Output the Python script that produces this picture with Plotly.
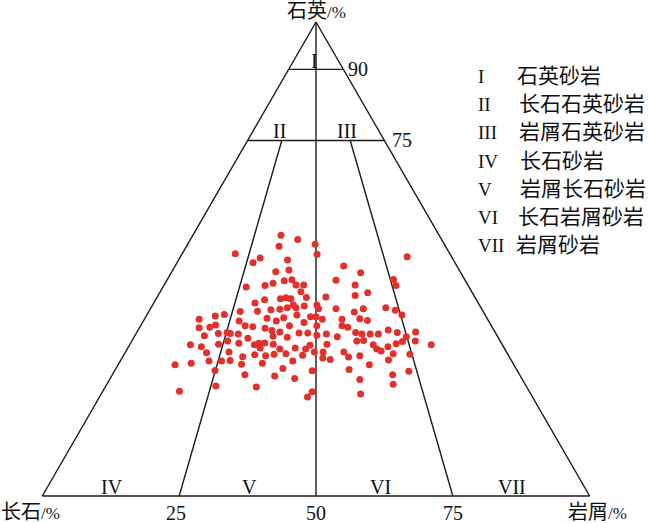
import plotly.graph_objects as go

# ---- data (percent): quartz Q, feldspar F, lithic L ----
quartz = [51.1, 49.2, 44.1, 40.7, 38.9, 55.0, 54.1, 52.7, 53.1, 51.0, 50.2, 49.8, 48.5, 47.3, 47.7, 45.5,
          45.6, 45.4, 44.9, 44.4, 44.5, 44.5, 43.1, 41.9, 42.0, 41.4, 41.6, 41.8, 41.6, 40.3, 39.7, 39.7,
          40.1, 40.3, 39.5, 39.5, 39.0, 39.3, 39.4, 50.5, 47.1, 45.7, 44.4, 44.5, 42.9, 42.3, 39.5, 39.7,
          39.2, 38.8, 37.3, 38.0, 38.3, 35.5, 35.6, 36.1, 36.9, 35.9, 35.7, 33.8, 34.3, 34.5, 34.3, 34.2,
          33.3, 31.9, 31.5, 32.0, 32.7, 32.2, 31.9, 30.2, 30.4, 29.4, 29.8, 27.7, 28.0, 28.5, 28.5, 28.6,
          27.8, 26.5, 25.6, 23.2, 23.0, 22.1, 38.2, 37.8, 37.8, 37.3, 37.5, 37.6, 36.9, 36.6, 35.9, 37.3,
          35.9, 35.9, 35.4, 34.9, 34.6, 34.4, 34.4, 33.9, 34.2, 33.6, 33.7, 33.5, 32.2, 32.3, 31.2, 32.0,
          31.8, 32.0, 31.0, 31.2, 31.0, 30.4, 30.4, 29.6, 29.9, 30.0, 29.7, 29.1, 28.8, 30.4, 28.5, 28.0,
          26.4, 26.9, 25.3, 24.8, 22.0, 20.9, 38.2, 35.6, 37.4, 37.0, 34.5, 34.2, 34.2, 34.2, 35.0, 34.5,
          34.6, 33.6, 32.6, 32.7, 32.1, 32.7, 32.8, 31.9, 31.0, 30.6, 31.5, 31.9, 30.0, 29.9, 29.3, 29.6,
          28.7, 27.7, 26.7, 26.3, 25.6, 24.6, 23.6, 21.5]
lithic = [9.7, 13.9, 15.2, 18.5, 16.7, 16.1, 19.6, 16.9, 23.3, 24.7, 14.7, 19.9, 30.8, 19.0, 21.2, 30.9,
          22.8, 21.5, 19.7, 18.5, 24.1, 25.5, 25.7, 27.3, 30.8, 19.9, 22.7, 23.6, 24.6, 25.7, 24.9, 26.5,
          27.8, 30.0, 30.7, 33.9, 19.8, 22.1, 23.7, 41.4, 34.6, 41.3, 42.4, 34.9, 38.0, 36.0, 38.9, 42.9,
          44.9, 37.6, 10.0, 12.6, 14.1, 10.9, 12.8, 13.6, 17.5, 19.1, 20.6, 12.7, 15.0, 16.5, 17.2, 18.7,
          20.9, 11.1, 13.3, 16.2, 17.5, 19.8, 22.8, 14.9, 18.9, 21.9, 23.9, 10.4, 13.2, 16.2, 18.5, 20.0,
          22.5, 18.3, 24.2, 20.1, 27.6, 14.0, 27.4, 30.1, 31.1, 32.5, 22.3, 25.3, 24.3, 29.5, 32.2, 36.1,
          36.8, 27.2, 23.0, 24.5, 26.1, 29.7, 31.3, 33.2, 34.8, 37.1, 25.3, 28.0, 23.5, 24.5, 24.2, 26.2,
          33.0, 36.0, 32.6, 30.6, 27.9, 34.5, 36.1, 26.0, 27.4, 29.5, 32.7, 36.7, 38.2, 39.9, 31.5, 26.2,
          36.1, 30.5, 29.8, 33.7, 38.3, 38.0, 46.6, 38.0, 39.3, 40.9, 40.0, 41.3, 42.8, 44.3, 45.7, 47.6,
          50.9, 49.7, 49.5, 51.8, 48.6, 41.1, 42.3, 44.5, 45.6, 46.6, 47.4, 55.1, 49.1, 52.2, 41.3, 43.2,
          48.9, 45.9, 42.7, 53.8, 51.2, 45.7, 52.3, 47.4]
feldspar = [39.2, 36.9, 40.7, 40.8, 44.4, 28.9, 26.3, 30.4, 23.6, 24.3, 35.1, 30.3, 20.7, 33.7, 31.1, 23.6,
            31.6, 33.1, 35.4, 37.1, 31.4, 30.0, 31.2, 30.8, 27.2, 38.7, 35.7, 34.6, 33.8, 34.0, 35.4, 33.8,
            32.1, 29.7, 29.8, 26.6, 41.2, 38.6, 36.9, 8.1, 18.3, 13.0, 13.2, 20.6, 19.1, 21.7, 21.6, 17.4,
            15.9, 23.6, 52.7, 49.4, 47.6, 53.6, 51.6, 50.3, 45.6, 45.0, 43.7, 53.5, 50.7, 49.0, 48.5, 47.1,
            45.8, 57.0, 55.2, 51.8, 49.8, 48.0, 45.3, 54.9, 50.7, 48.7, 46.3, 61.9, 58.8, 55.3, 53.0, 51.4,
            49.7, 55.2, 50.2, 56.7, 49.4, 63.9, 34.4, 32.1, 31.1, 30.2, 40.2, 37.1, 38.8, 33.9, 31.9, 26.6,
            27.3, 36.9, 41.6, 40.6, 39.3, 35.9, 34.3, 32.9, 31.0, 29.3, 41.0, 38.5, 44.3, 43.2, 44.6, 41.8,
            35.2, 32.0, 36.4, 38.2, 41.1, 35.1, 33.5, 44.4, 42.7, 40.5, 37.6, 34.2, 33.0, 29.7, 40.0, 45.8,
            37.5, 42.6, 44.9, 41.5, 39.7, 41.1, 15.2, 26.4, 23.3, 22.1, 25.5, 24.5, 23.0, 21.5, 19.3, 17.9,
            14.5, 16.7, 17.9, 15.5, 19.3, 26.2, 24.9, 23.6, 23.4, 22.8, 21.1, 13.0, 20.9, 17.9, 29.4, 27.2,
            22.4, 26.4, 30.6, 19.9, 23.2, 29.7, 24.1, 31.1]

# classification boundaries (Q limits and L/(F+L) ratios)
q_limits = [90, 75]
ratio_ticks = [25, 50, 75]
region_names = ["I", "II", "III", "IV", "V", "VI", "VII"]
rock_names = ["石英砂岩", "长石石英砂岩", "岩屑石英砂岩", "长石砂岩", "岩屑长石砂岩", "长石岩屑砂岩", "岩屑砂岩"]
pole_q, pole_f, pole_l = "石英", "长石", "岩屑"

FONT = "Liberation Serif, Times New Roman, Noto Sans CJK SC, serif"
LINE = dict(color="#1a1a1a", width=1.4)

fig = go.Figure()

# Q-limit lines (horizontal)
for q in q_limits:
    rest = 100 - q
    fig.add_trace(go.Scatterternary(a=[q, q], b=[rest, 0], c=[0, rest], mode="lines",
                                    line=LINE, hoverinfo="skip", showlegend=False))
# ratio lines from base toward quartz pole
for r in ratio_ticks:
    top_q = 100 if r == 50 else q_limits[1]
    rest = 100 - top_q
    fig.add_trace(go.Scatterternary(a=[top_q, 0], b=[rest * (100 - r) / 100, 100 - r],
                                    c=[rest * r / 100, r], mode="lines",
                                    line=LINE, hoverinfo="skip", showlegend=False))

# sample points
fig.add_trace(go.Scatterternary(a=quartz, b=feldspar, c=lithic, mode="markers",
                                marker=dict(color="#e2302c", size=7, line=dict(width=0)),
                                showlegend=False))

axis_common = dict(showgrid=False, showticklabels=False, ticks="", showline=True,
                   linecolor="#1a1a1a", linewidth=1.4, title=dict(text=""))
fig.update_layout(
    width=650, height=523, autosize=False,
    margin=dict(l=42, r=60, t=22, b=27, pad=0),
    paper_bgcolor="white", plot_bgcolor="white",
    font=dict(family=FONT, color="#111"),
    ternary=dict(sum=100, bgcolor="white",
                 aaxis=axis_common, baxis=axis_common, caxis=axis_common,
                 domain=dict(x=[0, 1], y=[0, 1])),
)

# pixel -> paper helper for text placement
def P(px, py):
    return (px - 42) / 548, (496 - py) / 474

ann = []
def add_text(px, py, text, size, xanchor="center"):
    x, y = P(px, py)
    ann.append(dict(x=x, y=y, xref="paper", yref="paper", text=text, showarrow=False,
                    xanchor=xanchor, yanchor="middle", font=dict(size=size, family=FONT, color="#111")))

small = "<span style='font-size:17px'>/%</span>"
add_text(316, 11, pole_q + small, 20)
add_text(-1, 512, pole_f + small, 20, "left")
add_text(566, 512, pole_l + small, 20, "left")
add_text(176, 513, str(ratio_ticks[0]), 20)
add_text(316, 513, str(ratio_ticks[1]), 20)
add_text(453, 513, str(ratio_ticks[2]), 20)
add_text(358, 69, str(q_limits[0]), 20)
add_text(402, 140, str(q_limits[1]), 20)

region_pos = [(314, 61), (279, 131), (347, 131), (112, 487), (249, 487), (380, 487), (512, 487)]
for name, (px, py) in zip(region_names, region_pos):
    add_text(px, py, name, 20)

row_y = [76, 104, 132, 161, 189, 217, 245]
name_x = [515, 517, 517, 518, 518, 516, 514]
for name, rock, y, nx in zip(region_names, rock_names, row_y, name_x):
    add_text(476, y, name, 19, "left")
    add_text(nx, y, rock, 21, "left")

fig.update_layout(annotations=ann)
fig.write_html("out.html", config=dict(displayModeBar=False),
               post_script="document.body.style.margin='0px';document.body.style.padding='0px';")
